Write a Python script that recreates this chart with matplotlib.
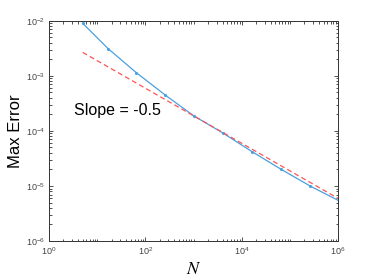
import numpy as np
import matplotlib
matplotlib.use("Agg")
import matplotlib.pyplot as plt
from matplotlib.ticker import LogLocator, NullFormatter, FixedLocator

plt.rcParams['mathtext.fontset'] = 'stix'
plt.rcParams['font.family'] = ['Liberation Sans', 'DejaVu Sans']

# Data
N = [5, 17, 65, 257, 1025, 4097, 16385, 65537, 262145, 1048577]
max_error = [8.97e-3, 3.09e-3, 1.14e-3, 4.49e-4, 1.86e-4, 9.12e-5,
             4.20e-5, 2.01e-5, 1.00e-5, 5.37e-6]
ref_slope = -0.5
ref_anchor = 4  # reference line passes through this point
x_ticks = [1e0, 1e2, 1e4, 1e6]
y_ticks = [1e-6, 1e-5, 1e-4, 1e-3, 1e-2]

Nn = np.array(N, dtype=float)
ref = max_error[ref_anchor] * (Nn / Nn[ref_anchor]) ** ref_slope

fig = plt.figure(figsize=(3.74, 2.80), dpi=100)
ax = fig.add_axes([0.131, 0.139, 0.773, 0.787])

ax.loglog(Nn, max_error, '-', color='#4aa0e0', lw=0.9, marker='.', ms=2.5)
ax.loglog(Nn, ref, '--', color='#ff5555', lw=0.9, dashes=(4, 2.5))

ax.set_xlim(1, 1e6)
ax.set_ylim(1e-6, 1e-2)

ax.xaxis.set_major_locator(FixedLocator(x_ticks))
ax.yaxis.set_major_locator(FixedLocator(y_ticks))
ax.xaxis.set_minor_locator(LogLocator(base=10, subs=np.arange(1, 10), numticks=50))
ax.yaxis.set_minor_locator(LogLocator(base=10, subs=np.arange(2, 10), numticks=50))
ax.xaxis.set_minor_formatter(NullFormatter())
ax.yaxis.set_minor_formatter(NullFormatter())

ax.tick_params(which='both', direction='in', top=True, right=True,
               labelsize=6.5, labelcolor='#444444', color='#333333', width=0.6)
ax.tick_params(which='major', length=3, pad=3)
ax.tick_params(which='minor', length=1.8)
for s in ax.spines.values():
    s.set_color('#333333')
    s.set_linewidth(0.7)

ax.set_ylabel('Max Error', fontsize=12, labelpad=2)
ax.set_xlabel('$N$', fontsize=13, labelpad=3)

ax.text(3.3, 2.3e-4, 'Slope = -0.5', fontsize=11.5, ha='left', va='center')

fig.savefig('out.png', dpi=100)
